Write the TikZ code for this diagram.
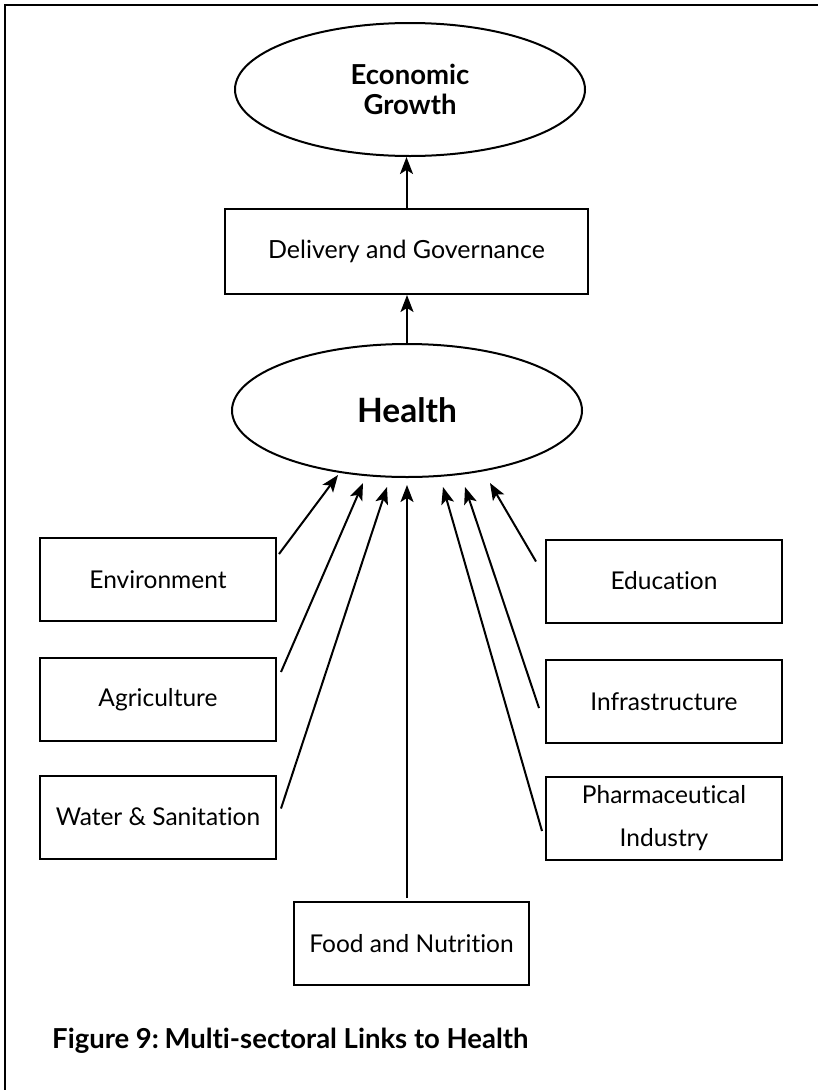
\documentclass[tikz,border=0pt]{standalone}
\usepackage{fontspec}
\setmainfont{Lato}[RawFeature={-liga;-dlig}]
\usetikzlibrary{shapes.geometric,arrows.meta,calc}
\begin{document}
\begin{tikzpicture}[x=1pt,y=-1pt,
  box/.style={draw,line width=2pt,minimum width=236pt,minimum height=83pt,inner sep=0pt,
    font=\fontsize{24.5}{30}\selectfont,align=center},
  oval/.style={draw,ellipse,line width=2pt,inner sep=0pt,align=center,
    minimum width=350pt,minimum height=133pt},
  link/.style={line width=2pt,-{Stealth[length=17pt,width=13pt,inset=4pt]}},
  frame/.style={line width=2.6pt,line join=miter},
]
\useasboundingbox (0,0) rectangle (818,1090);
% frame
\draw[frame] (5,1090) -- (5,5) -- (818,5);

% top nodes
\node[oval,font=\bfseries\fontsize{27.5}{30}\selectfont] (econ) at (410,89.5) {Economic\\Growth};
\node[box,minimum width=363pt,minimum height=85pt,font=\fontsize{25}{30}\selectfont] (del) at (406.5,251.5) {Delivery and Governance};
\node[oval,font=\bfseries\fontsize{33.5}{36}\selectfont] (health) at (407,410.5) {Health};

% left boxes
\node[box] (env) at (158,579.5) {Environment};
\node[box] (agr) at (158,699.5) {Agriculture};
\node[box] (wat) at (158,817) {Water \& Sanitation};
% right boxes
\node[box] (edu) at (664,581) {Education};
\node[box] (inf) at (664,701.5) {Infrastructure};
\node[box,font=\fontsize{24.5}{43}\selectfont] (pha) at (664,818.5) {Pharmaceutical\\Industry};
% bottom box
\node[box,minimum width=235pt] (food) at (411.5,943.5) {Food and Nutrition};

% caption
\node[anchor=base west,inner sep=0pt,font=\bfseries\fontsize{27.5}{30}\selectfont] (cap) at (52,1048)
  {Figure 9:\hspace{-0.12em} Multi-sectoral Links to Health};

% arrow tips near Health
\coordinate (t1) at (338,475);
\coordinate (t2) at (363,483);
\coordinate (t3) at (387,487);
\coordinate (t4) at (407,485);
\coordinate (t5) at (443,487);
\coordinate (t6) at (465,487);
\coordinate (t7) at (490,483);

% vertical chain
\draw[link] (del.north) -- (del.north |- econ.south);
\draw[link] (health.north) -- (health.north |- del.south);

% sector links
\draw[link] ($(env.north east)+(2,17)$) -- (t1);
\draw[link] ($(agr.north east)+(4,15)$) -- (t2);
\draw[link] ($(wat.north east)+(4,34)$) -- (t3);
\draw[link] ($(food.north -| t4)+(0,-3)$) -- (t4);
\draw[link] ($(pha.north west)+(-3,55)$) -- (t5);
\draw[link] ($(inf.north west)+(-6,49)$) -- (t6);
\draw[link] ($(edu.north west)+(-9,23)$) -- (t7);
\end{tikzpicture}
\end{document}
